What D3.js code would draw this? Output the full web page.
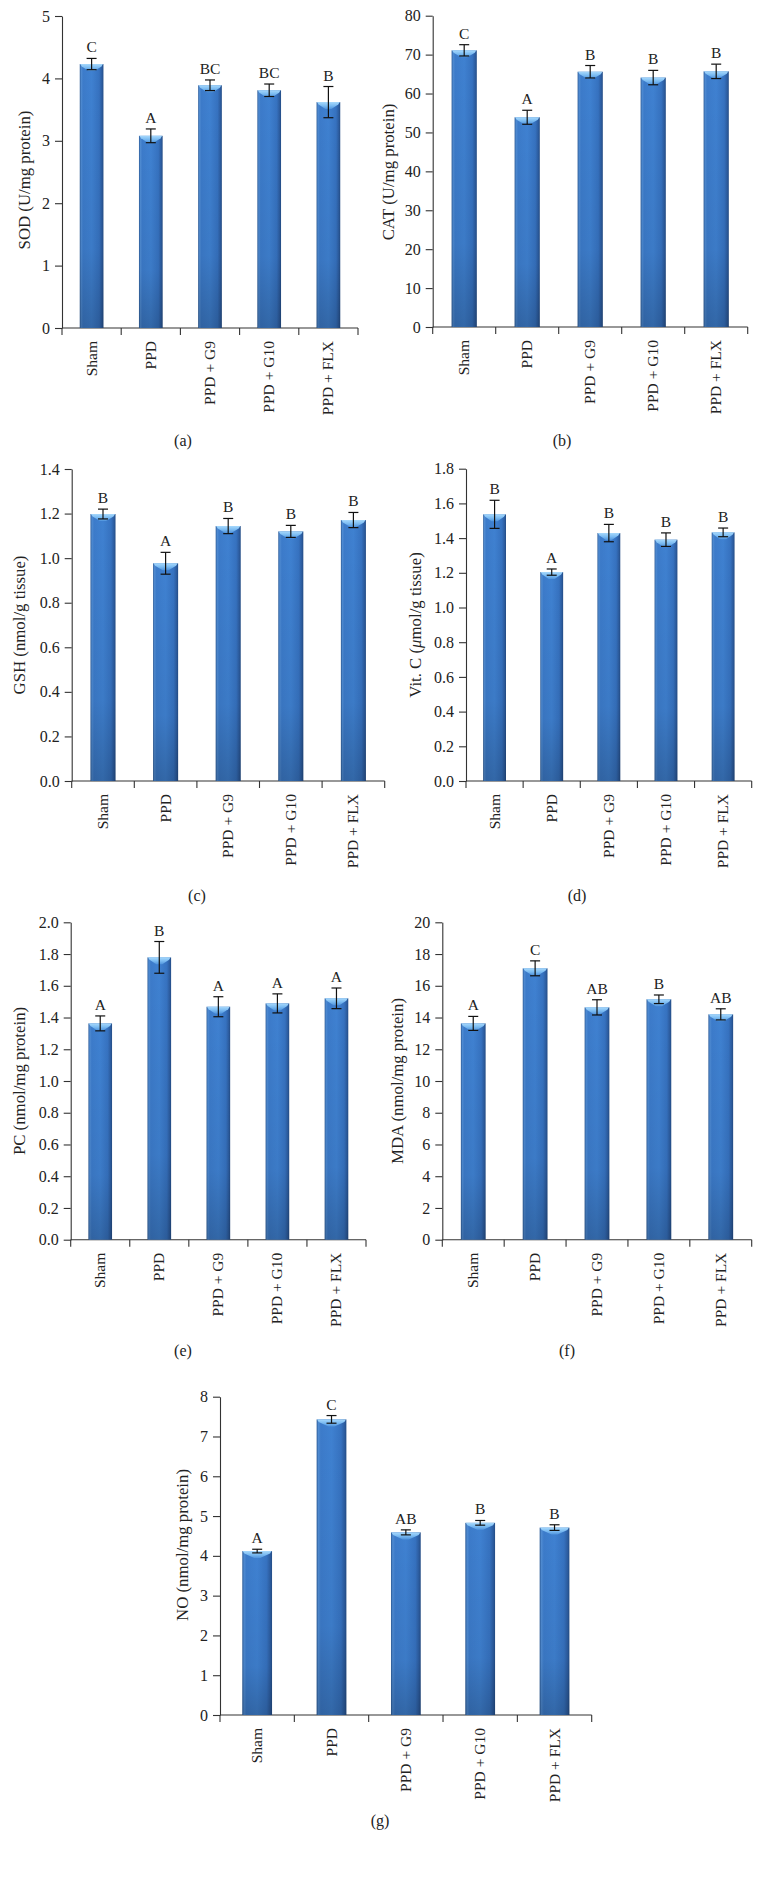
<!DOCTYPE html>
<html>
<head>
<meta charset="utf-8">
<script src="https://cdn.jsdelivr.net/npm/d3@7"></script>
<style>
  html, body { margin: 0; padding: 0; background: #fff; }
  svg { display: block; }
  text { font-family: "Liberation Serif", "Times New Roman", serif; fill: #222; }
</style>
</head>
<body>
<svg id="chart" width="763" height="1884"></svg>
<script>
// ---------------- data ----------------
const categories = ["Sham", "PPD", "PPD + G9", "PPD + G10", "PPD + FLX"];

const sodValues  = [4.23, 3.08, 3.89, 3.81, 3.62];
const sodErrors  = [0.09, 0.11, 0.085, 0.10, 0.25];
const sodLetters = ["C", "A", "BC", "BC", "B"];
const sodTicks   = [0, 1, 2, 3, 4, 5];

const catValues  = [71.1, 53.9, 65.6, 64.1, 65.7];
const catErrors  = [1.45, 1.8, 1.6, 1.85, 1.85];
const catLetters = ["C", "A", "B", "B", "B"];
const catTicks   = [0, 10, 20, 30, 40, 50, 60, 70, 80];

const gshValues  = [1.198, 0.977, 1.144, 1.12, 1.171];
const gshErrors  = [0.022, 0.049, 0.034, 0.027, 0.034];
const gshLetters = ["B", "A", "B", "B", "B"];
const gshTicks   = [0, 0.2, 0.4, 0.6, 0.8, 1.0, 1.2, 1.4];

const vitcValues  = [1.537, 1.204, 1.429, 1.391, 1.433];
const vitcErrors  = [0.081, 0.018, 0.05, 0.039, 0.025];
const vitcLetters = ["B", "A", "B", "B", "B"];
const vitcTicks   = [0, 0.2, 0.4, 0.6, 0.8, 1.0, 1.2, 1.4, 1.6, 1.8];

const pcValues  = [1.363, 1.779, 1.468, 1.489, 1.521];
const pcErrors  = [0.047, 0.10, 0.063, 0.06, 0.065];
const pcLetters = ["A", "B", "A", "A", "A"];
const pcTicks   = [0, 0.2, 0.4, 0.6, 0.8, 1.0, 1.2, 1.4, 1.6, 1.8, 2.0];

const mdaValues  = [13.63, 17.1, 14.64, 15.15, 14.2];
const mdaErrors  = [0.44, 0.47, 0.48, 0.27, 0.35];
const mdaLetters = ["A", "C", "AB", "B", "AB"];
const mdaTicks   = [0, 2, 4, 6, 8, 10, 12, 14, 16, 18, 20];

const noValues  = [4.12, 7.43, 4.59, 4.83, 4.71];
const noErrors  = [0.046, 0.096, 0.063, 0.059, 0.071];
const noLetters = ["A", "C", "AB", "B", "B"];
const noTicks   = [0, 1, 2, 3, 4, 5, 6, 7, 8];

// ---------------- layout ----------------
const panels = [
  { id: "a", title: "SOD (U/mg protein)", values: sodValues, errors: sodErrors, letters: sodLetters, ticks: sodTicks, fmt: "d",
    x0: 62, x1: 358, yTop: 16, yBot: 328, labX: 24, labY: 180, capX: 183, capY: 440 },
  { id: "b", title: "CAT (U/mg protein)", values: catValues, errors: catErrors, letters: catLetters, ticks: catTicks, fmt: "d",
    x0: 432.7, x1: 747.7, yTop: 15.7, yBot: 327, labX: 388, labY: 172, capX: 562, capY: 440 },
  { id: "c", title: "GSH (nmol/g tissue)", values: gshValues, errors: gshErrors, letters: gshLetters, ticks: gshTicks, fmt: ".1f",
    x0: 71.7, x1: 384.7, yTop: 469, yBot: 781, labX: 19, labY: 625, capX: 197, capY: 895 },
  { id: "d", title: "VITC", values: vitcValues, errors: vitcErrors, letters: vitcLetters, ticks: vitcTicks, fmt: ".1f",
    x0: 466, x1: 751.7, yTop: 468.7, yBot: 781, labX: 415, labY: 625, capX: 577, capY: 895 },
  { id: "e", title: "PC (nmol/mg protein)", values: pcValues, errors: pcErrors, letters: pcLetters, ticks: pcTicks, fmt: ".1f",
    x0: 70.7, x1: 366, yTop: 922.3, yBot: 1239.7, labX: 19, labY: 1081, capX: 183, capY: 1350 },
  { id: "f", title: "MDA (nmol/mg protein)", values: mdaValues, errors: mdaErrors, letters: mdaLetters, ticks: mdaTicks, fmt: "d",
    x0: 442.3, x1: 751.7, yTop: 922.3, yBot: 1239.7, labX: 397, labY: 1081, capX: 567, capY: 1350 },
  { id: "g", title: "NO (nmol/mg protein)", values: noValues, errors: noErrors, letters: noLetters, ticks: noTicks, fmt: "d",
    x0: 220, x1: 591.7, yTop: 1396.7, yBot: 1715, labX: 182, labY: 1545, capX: 380, capY: 1820 }
];

const svg = d3.select("#chart");
const defs = svg.append("defs");

// bar body gradient (horizontal)
const gBody = defs.append("linearGradient").attr("id", "barBody").attr("x1", "0").attr("x2", "1").attr("y1", "0").attr("y2", "0");
[[0, "#2a5a98"], [0.06, "#4f8bd2"], [0.14, "#3c7bca"], [0.5, "#3f81d1"], [0.82, "#3672c0"], [0.94, "#2c5c9f"], [1, "#234c85"]]
  .forEach(([o, c]) => gBody.append("stop").attr("offset", o).attr("stop-color", c));
// vertical darkening overlay
const gShade = defs.append("linearGradient").attr("id", "barShade").attr("x1", "0").attr("x2", "0").attr("y1", "0").attr("y2", "1");
[[0, "#000", 0], [0.7, "#000", 0.05], [1, "#000", 0.2]]
  .forEach(([o, c, a]) => gShade.append("stop").attr("offset", o).attr("stop-color", c).attr("stop-opacity", a));
// top cap gradient
const gCap = defs.append("linearGradient").attr("id", "barCap").attr("x1", "0").attr("x2", "0").attr("y1", "0").attr("y2", "1");
[[0, "#a6d8fc"], [0.5, "#7cbcf2"], [1, "#4f93dc"]]
  .forEach(([o, c]) => gCap.append("stop").attr("offset", o).attr("stop-color", c));

panels.forEach(p => {
  const g = svg.append("g");
  const maxV = p.ticks[p.ticks.length - 1];
  const y = d3.scaleLinear().domain([0, maxV]).range([p.yBot, p.yTop]);
  const x = d3.scaleBand().domain(categories).range([p.x0, p.x1]).padding(0);
  const bw = x.bandwidth();
  const barW = bw * 0.4;
  const fmt = d3.format(p.fmt);

  // y axis
  const yAxis = d3.axisLeft(y).tickValues(p.ticks).tickFormat(fmt).tickSize(7).tickPadding(5).tickSizeOuter(0);
  const ya = g.append("g").attr("transform", `translate(${p.x0},0)`).call(yAxis);
  ya.select(".domain").attr("stroke", "#333").attr("stroke-width", 1.1);
  ya.selectAll(".tick line").attr("stroke", "#333").attr("stroke-width", 1.1);
  ya.selectAll(".tick text").attr("font-size", 16).attr("font-family", "Liberation Serif, serif").attr("fill", "#222");

  // x axis line and boundary ticks
  g.append("line").attr("x1", p.x0).attr("x2", p.x1).attr("y1", p.yBot).attr("y2", p.yBot)
    .attr("stroke", "#333").attr("stroke-width", 1.1);
  const bounds = categories.map(c => x(c)).concat([p.x1]);
  g.selectAll(".xtick").data(bounds).enter().append("line")
    .attr("x1", d => d).attr("x2", d => d).attr("y1", p.yBot).attr("y2", p.yBot + 7)
    .attr("stroke", "#333").attr("stroke-width", 1.1);

  // x labels (rotated)
  g.selectAll(".xlab").data(categories).enter().append("text")
    .attr("transform", d => `translate(${x(d) + bw / 2 + 5},${p.yBot + 13}) rotate(-90)`)
    .attr("text-anchor", "end")
    .attr("font-size", 15.5)
    .text(d => d);

  // bars
  const bars = g.selectAll(".bar").data(p.values).enter().append("g");
  bars.append("rect")
    .attr("x", (d, i) => x(categories[i]) + (bw - barW) / 2)
    .attr("y", d => y(d))
    .attr("width", barW)
    .attr("height", d => p.yBot - y(d))
    .attr("fill", "url(#barBody)");
  bars.append("rect")
    .attr("x", (d, i) => x(categories[i]) + (bw - barW) / 2)
    .attr("y", d => y(d))
    .attr("width", barW)
    .attr("height", d => p.yBot - y(d))
    .attr("fill", "url(#barShade)");
  bars.append("path")
    .attr("d", (d, i) => {
      const l = x(categories[i]) + (bw - barW) / 2, r = l + barW, t = y(d), c = l + barW / 2;
      return `M${l + 0.5},${t} L${r - 0.5},${t} L${r - 2},${t + 2.5} L${c + 3},${t + 7} L${c - 3},${t + 7} L${l + 2},${t + 2.5} Z`;
    })
    .attr("fill", "url(#barCap)");

  // error bars
  const eb = g.selectAll(".err").data(p.values).enter().append("g").attr("stroke", "#111").attr("stroke-width", 1.2);
  eb.append("line")
    .attr("x1", (d, i) => x(categories[i]) + bw / 2).attr("x2", (d, i) => x(categories[i]) + bw / 2)
    .attr("y1", (d, i) => y(d + p.errors[i])).attr("y2", (d, i) => y(d - p.errors[i]));
  eb.append("line")
    .attr("x1", (d, i) => x(categories[i]) + bw / 2 - 5).attr("x2", (d, i) => x(categories[i]) + bw / 2 + 5)
    .attr("y1", (d, i) => y(d + p.errors[i])).attr("y2", (d, i) => y(d + p.errors[i]));
  eb.append("line")
    .attr("x1", (d, i) => x(categories[i]) + bw / 2 - 5).attr("x2", (d, i) => x(categories[i]) + bw / 2 + 5)
    .attr("y1", (d, i) => y(d - p.errors[i])).attr("y2", (d, i) => y(d - p.errors[i]));

  // significance letters
  g.selectAll(".let").data(p.letters).enter().append("text")
    .attr("x", (d, i) => x(categories[i]) + bw / 2)
    .attr("y", (d, i) => y(p.values[i] + p.errors[i]) - 6)
    .attr("text-anchor", "middle")
    .attr("font-size", 15.5)
    .text(d => d);

  // y-axis title
  const yt = g.append("text")
    .attr("transform", `translate(${p.labX},${p.labY}) rotate(-90)`)
    .attr("text-anchor", "middle")
    .attr("dominant-baseline", "central")
    .attr("font-size", 16.8);
  if (p.id === "d") {
    yt.append("tspan").text("Vit. C (");
    yt.append("tspan").attr("font-style", "italic").text("\u03BC");
    yt.append("tspan").text("mol/g tissue)");
  } else {
    yt.text(p.title);
  }

  // caption
  g.append("text")
    .attr("x", p.capX).attr("y", p.capY)
    .attr("text-anchor", "middle")
    .attr("dominant-baseline", "central")
    .attr("font-size", 16)
    .text(`(${p.id})`);
});
</script>
</body>
</html>
